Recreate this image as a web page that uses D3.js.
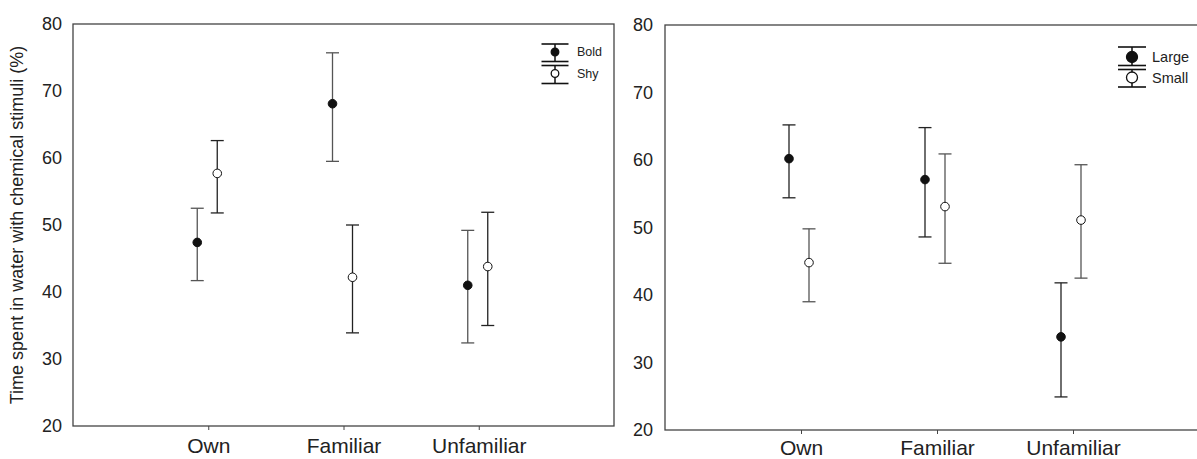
<!DOCTYPE html>
<html>
<head>
<meta charset="utf-8">
<script src="https://cdn.jsdelivr.net/npm/d3@7"></script>
<style>
  html, body { margin: 0; padding: 0; background: #fff; }
  svg { display: block; font-family: "Liberation Sans", Arial, sans-serif; }
</style>
</head>
<body>
<svg id="chart" width="1197" height="459"></svg>
<script>
// Stimulus categories and y-axis ticks
const categories = ["Own", "Familiar", "Unfamiliar"];
const yTicks = [20, 30, 40, 50, 60, 70, 80];

// Personality groups (left panel): mean with lower/upper error limits
const boldMean = [47.4, 68.1, 41.0];
const boldLow  = [41.7, 59.5, 32.4];
const boldHigh = [52.5, 75.7, 49.2];
const shyMean  = [57.7, 42.2, 43.8];
const shyLow   = [51.8, 33.9, 35.0];
const shyHigh  = [62.6, 50.0, 51.9];

// Size groups (right panel)
const largeMean = [60.2, 57.1, 33.8];
const largeLow  = [54.4, 48.6, 24.9];
const largeHigh = [65.2, 64.8, 41.8];
const smallMean = [44.8, 53.1, 51.1];
const smallLow  = [39.0, 44.7, 42.5];
const smallHigh = [49.8, 60.9, 59.3];

const svg = d3.select("#chart");
const ink = "#222";

function series(name, filled, mean, low, high) {
  return { name, filled, rows: categories.map((c, i) => ({ c, m: mean[i], lo: low[i], hi: high[i] })) };
}

function drawPanel(p) {
  const g = svg.append("g");
  const x = d3.scalePoint().domain(categories).range([p.left, p.right]).padding(1);
  const y = d3.scaleLinear().domain([20, 80]).range([p.bottom, p.top]);

  // frame
  g.append("rect")
    .attr("x", p.left).attr("y", p.top)
    .attr("width", p.right - p.left).attr("height", p.bottom - p.top)
    .attr("fill", "none").attr("stroke", "#444").attr("stroke-width", 1.3);

  // y axis labels
  const yAxis = d3.axisLeft(y).tickValues(yTicks).tickSize(0).tickPadding(p.yPad);
  g.append("g").attr("transform", `translate(${p.left},0)`).call(yAxis)
    .call(a => a.select(".domain").remove())
    .selectAll("text").attr("font-size", 18).attr("fill", ink)
    .attr("font-family", "Liberation Sans, Arial, sans-serif");

  // x axis ticks and category labels
  const xAxis = d3.axisBottom(x).tickSize(4).tickPadding(p.xPad);
  g.append("g").attr("transform", `translate(0,${p.bottom})`).call(xAxis)
    .call(a => a.select(".domain").remove())
    .call(a => a.selectAll("line").attr("stroke", "#444"))
    .selectAll("text").attr("font-size", 21).attr("fill", ink)
    .attr("font-family", "Liberation Sans, Arial, sans-serif");

  // error bars and means
  p.series.forEach((s, k) => {
    const dx = p.offsets[k];
    const sg = g.append("g");
    const rows = sg.selectAll("g").data(s.rows).join("g")
      .attr("transform", d => `translate(${x(d.c) + dx},0)`);
    const barColor = p.barColors[k];
    rows.append("line").attr("x1", 0).attr("x2", 0)
      .attr("y1", d => y(d.lo)).attr("y2", d => y(d.hi))
      .attr("stroke", barColor).attr("stroke-width", 1.3);
    rows.append("line").attr("x1", -p.cap).attr("x2", p.cap)
      .attr("y1", d => y(d.hi)).attr("y2", d => y(d.hi))
      .attr("stroke", barColor).attr("stroke-width", 1.3);
    rows.append("line").attr("x1", -p.cap).attr("x2", p.cap)
      .attr("y1", d => y(d.lo)).attr("y2", d => y(d.lo))
      .attr("stroke", barColor).attr("stroke-width", 1.3);
    rows.append("circle").attr("cx", 0).attr("cy", d => y(d.m)).attr("r", p.r)
      .attr("fill", s.filled ? "#111" : "#fff").attr("stroke", "#111").attr("stroke-width", 1);
  });

  // legend
  const lg = g.append("g");
  p.legend.forEach((it, k) => {
    const s = p.series[k];
    lg.append("line").attr("x1", p.lx).attr("x2", p.lx)
      .attr("y1", it.top).attr("y2", it.bot).attr("stroke", "#111").attr("stroke-width", 1.5);
    [it.top, it.bot].forEach(yy => lg.append("line")
      .attr("x1", p.lx - p.lcap).attr("x2", p.lx + p.lcap)
      .attr("y1", yy).attr("y2", yy).attr("stroke", "#111").attr("stroke-width", 1.6));
    lg.append("circle").attr("cx", p.lx).attr("cy", it.mid).attr("r", p.lr)
      .attr("fill", s.filled ? "#111" : "#fff").attr("stroke", "#111").attr("stroke-width", 1.3);
    lg.append("text").attr("x", p.tx).attr("y", it.mid).attr("dy", "0.35em")
      .attr("font-size", p.lfont).attr("fill", ink).text(s.name);
  });
}

drawPanel({
  left: 73, right: 614, top: 24, bottom: 426, yPad: 11, xPad: 8,
  series: [series("Bold", true, boldMean, boldLow, boldHigh),
           series("Shy", false, shyMean, shyLow, shyHigh)],
  offsets: [-11, 9], barColors: ["#555", "#222"], cap: 6.5, r: 4.3,
  lx: 555, lcap: 13.5, lr: 3.8, tx: 577, lfont: 12.5,
  legend: [{ top: 44, mid: 52, bot: 61.5 }, { top: 65.5, mid: 73.5, bot: 83.5 }]
});

drawPanel({
  left: 665, right: 1209, top: 25, bottom: 430, yPad: 12, xPad: 6,
  series: [series("Large", true, largeMean, largeLow, largeHigh),
           series("Small", false, smallMean, smallLow, smallHigh)],
  offsets: [-12, 8], barColors: ["#222", "#555"], cap: 6.5, r: 4.3,
  lx: 1132, lcap: 14, lr: 5.5, tx: 1152, lfont: 14.5,
  legend: [{ top: 47, mid: 57, bot: 65.5 }, { top: 69.5, mid: 77.5, bot: 87 }]
});

// shared y-axis title
svg.append("text")
  .attr("transform", "translate(23,225) rotate(-90)")
  .attr("text-anchor", "middle").attr("font-size", 18).attr("fill", ink)
  .text("Time spent in water with chemical stimuli (%)");
</script>
</body>
</html>
